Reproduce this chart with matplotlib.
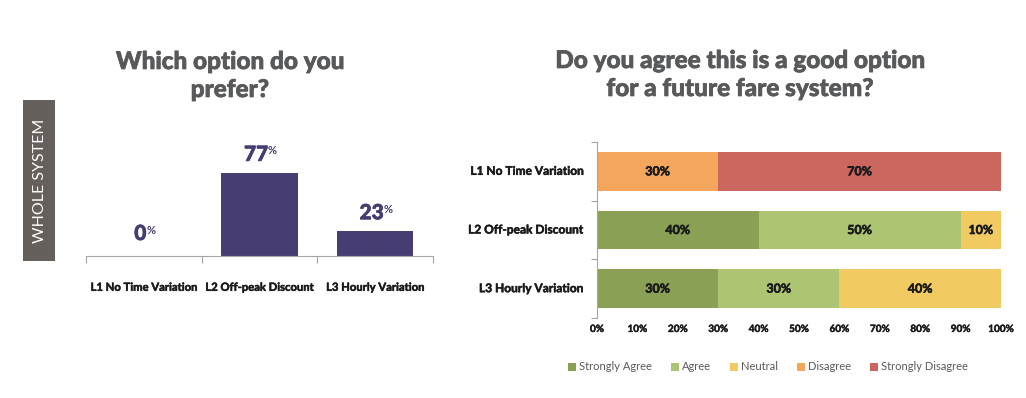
import matplotlib
matplotlib.use("Agg")
import matplotlib.pyplot as plt
import matplotlib.patheffects as pe
from matplotlib.patches import Rectangle
import numpy as np

plt.rcParams['font.family'] = ['Lato', 'DejaVu Sans']

# ---------------- data ----------------
categories = ["L1 No Time Variation", "L2 Off-peak Discount", "L3 Hourly Variation"]
preference = [0, 77, 23]

series_names = ["Strongly Agree", "Agree", "Neutral", "Disagree", "Strongly Disagree"]
strongly_agree = [0, 40, 30]
agree = [0, 50, 30]
neutral = [0, 10, 40]
disagree = [30, 0, 0]
strongly_disagree = [70, 0, 0]
series_values = [strongly_agree, agree, neutral, disagree, strongly_disagree]
series_colors = ["#8AA155", "#ADC473", "#F1CB62", "#F5A65D", "#CC6760"]
xtick_values = [0, 10, 20, 30, 40, 50, 60, 70, 80, 90, 100]

W, H = 1026, 398
fig = plt.figure(figsize=(W / 100, H / 100), dpi=100)

def fx(px):
    return px / W

def fy(py):
    return 1 - py / H

def thick(color, lw):
    return [pe.withStroke(linewidth=lw, foreground=color)]

title_color = "#58595B"
purple = "#463E72"
axis_gray = "#A6A6A6"
label_color = "#1a1a1a"

# ---------------- left chart ----------------
axL = fig.add_axes([fx(86), fy(256), fx(433 - 86), (108) / H])
x = np.arange(len(categories))
axL.bar(x, preference, width=0.66, color=purple)
axL.set_xlim(-0.5, len(categories) - 0.5)
axL.set_ylim(0, 100)
for s in ["top", "right", "left"]:
    axL.spines[s].set_visible(False)
axL.spines["bottom"].set_color(axis_gray)
axL.set_yticks([])
axL.set_xticks(np.arange(-0.5, len(categories), 1.0))
axL.set_xticklabels([])
axL.tick_params(axis="x", length=5, color=axis_gray, direction="out")
for i, c in enumerate(categories):
    axL.text(i, -0.29, c, transform=axL.get_xaxis_transform(), ha="center", va="center",
             fontsize=8.1, fontweight="bold", color=label_color,
             path_effects=thick(label_color, 0.35))
for i, v in enumerate(preference):
    t = axL.annotate(f"{v}", xy=(i - 0.03, v), xytext=(0, 8.6 if v > 0 else 11.5), textcoords="offset points",
                     ha="center", va="baseline", fontsize=15, fontweight="black", color=purple,
                     path_effects=thick(purple, 0.5))
    axL.annotate("%", xy=(1.0, 0.97), xycoords=t, xytext=(-0.2, 0), textcoords="offset points",
                 ha="left", va="top", fontsize=8, fontweight="bold", color=purple)

fig.text(fx(230), fy(69), "Which option do you", ha="center", va="baseline",
         fontsize=17.5, fontweight="black", color=title_color, path_effects=thick(title_color, 0.5))
fig.text(fx(230), fy(97), "prefer?", ha="center", va="baseline",
         fontsize=17.5, fontweight="black", color=title_color, path_effects=thick(title_color, 0.5))

# WHOLE SYSTEM box
fig.patches.append(Rectangle((fx(23), fy(261)), fx(55 - 23), (261 - 100) / H,
                             transform=fig.transFigure, facecolor="#65605C", edgecolor="none"))
fig.text(fx(40), fy(181), "WHOLE SYSTEM", rotation=90, ha="center", va="center",
         fontsize=11.5, fontweight="normal", color="white")

# ---------------- right chart ----------------
axR = fig.add_axes([fx(597), fy(318), fx(1001 - 597), (318 - 142) / H])
y = np.arange(len(categories))
left = np.zeros(len(categories))
for name, vals, col in zip(series_names, series_values, series_colors):
    vals = np.array(vals, dtype=float)
    axR.barh(y, vals, left=left, height=0.655, color=col, label=name)
    for i, v in enumerate(vals):
        if v > 0:
            axR.text(left[i] + v / 2, i, f"{int(v)}%", ha="center", va="center",
                     fontsize=9, fontweight="bold", color=label_color,
                     path_effects=thick(label_color, 0.4))
    left += vals
axR.set_xlim(0, 100)
axR.set_ylim(len(categories) - 0.5, -0.5)
for s in ["top", "right", "bottom"]:
    axR.spines[s].set_visible(False)
axR.spines["left"].set_color(axis_gray)
axR.set_xticks(xtick_values)
axR.set_xticklabels([f"{v}%" for v in xtick_values], fontsize=7.2, fontweight="bold",
                    color=label_color, path_effects=thick(label_color, 0.3))
axR.tick_params(axis="x", length=0, pad=5)
axR.set_yticks(np.arange(-0.5, len(categories), 1.0), minor=False)
axR.set_yticklabels([])
axR.tick_params(axis="y", length=4, color=axis_gray)
for i, c in enumerate(categories):
    axR.text(-0.035, i, c, transform=axR.get_yaxis_transform(), ha="right", va="center",
             fontsize=8.6, fontweight="bold", color=label_color,
             path_effects=thick(label_color, 0.35))

fig.text(fx(740), fy(68), "Do you agree this is a good option", ha="center", va="baseline",
         fontsize=17.5, fontweight="black", color=title_color, path_effects=thick(title_color, 0.5))
fig.text(fx(740), fy(96), "for a future fare system?", ha="center", va="baseline",
         fontsize=17.5, fontweight="black", color=title_color, path_effects=thick(title_color, 0.5))

handles, labels = axR.get_legend_handles_labels()
leg = fig.legend(handles, labels, loc="center", bbox_to_anchor=(fx(768), fy(367)), ncol=5,
                 frameon=False, handlelength=0.75, handleheight=0.75, handletextpad=0.25,
                 columnspacing=1.7, fontsize=8.0)
for t in leg.get_texts():
    t.set_color("#595959")

fig.savefig("out.png", dpi=100)
